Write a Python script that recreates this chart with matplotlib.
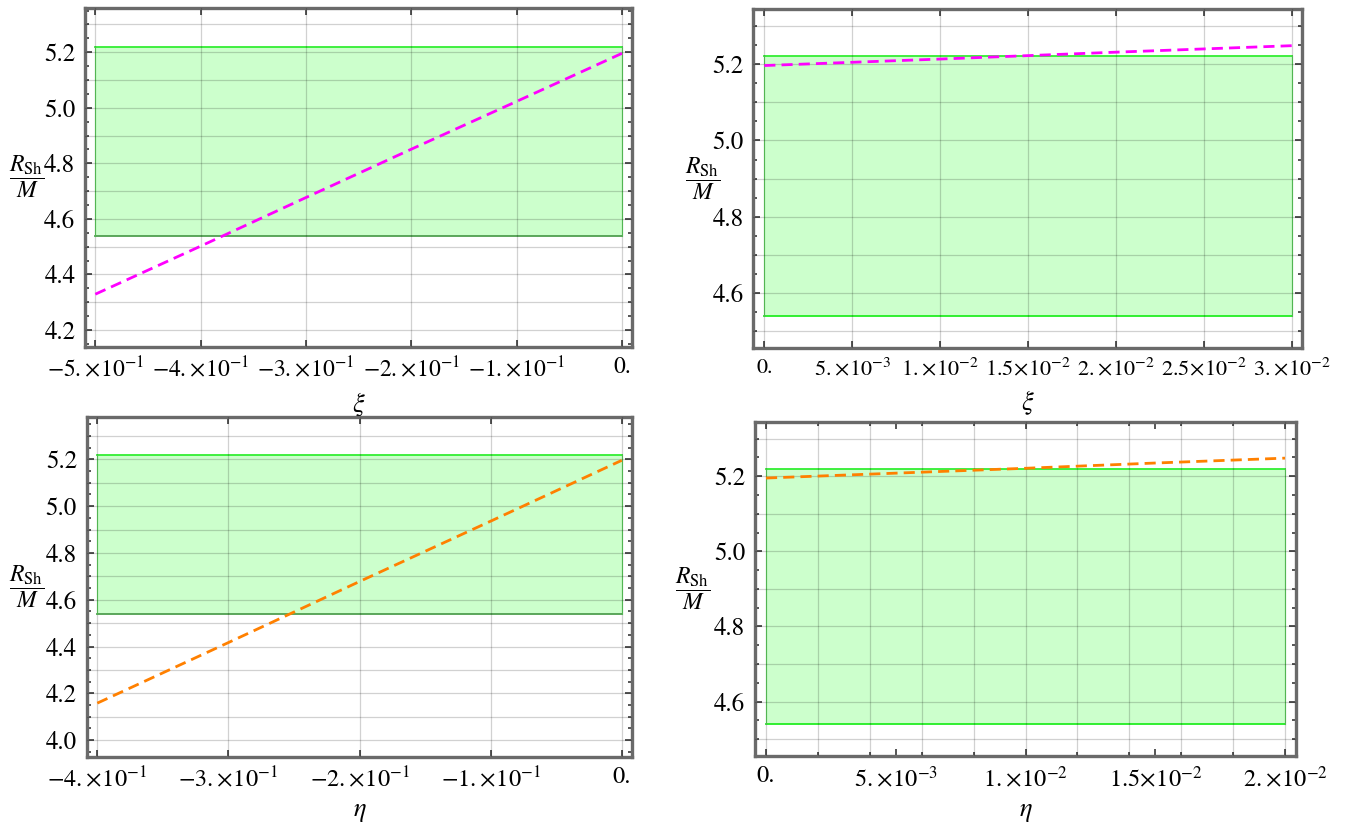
import numpy as np
import matplotlib.pyplot as plt
from matplotlib.ticker import MultipleLocator, FixedLocator

plt.rcParams["mathtext.fontset"] = "stix"
plt.rcParams["font.family"] = ["STIXGeneral", "DejaVu Sans"]

# shadow radius R_Sh/M
xi_neg = [-0.5, -0.4, -0.3, -0.2, -0.1, 0.0]
rsh_xi_neg = [4.329, 4.502, 4.677, 4.851, 5.023, 5.196]
xi_pos = [0.0, 0.01, 0.02, 0.03]
rsh_xi_pos = [5.196, 5.213, 5.231, 5.248]
eta_neg = [-0.4, -0.3, -0.2, -0.1, 0.0]
rsh_eta_neg = [4.158, 4.417, 4.678, 4.936, 5.196]
eta_pos = [0.0, 0.005, 0.01, 0.015, 0.02]
rsh_eta_pos = [5.195, 5.208, 5.221, 5.235, 5.248]

# observational band
band_low, band_high = 4.54, 5.22


def sci(m, e):
    # Mathematica style "m.×10^e"
    return "$" + m + r"\!\times\!10^{" + e + "}$"


xticks_xi_neg = [-0.5, -0.4, -0.3, -0.2, -0.1, 0.0]
xlabels_xi_neg = [sci("-5.", "-1"), sci("-4.", "-1"), sci("-3.", "-1"),
                  sci("-2.", "-1"), sci("-1.", "-1"), "0."]
xticks_xi_pos = [0.0, 0.005, 0.01, 0.015, 0.02, 0.025, 0.03]
xlabels_xi_pos = ["0.", sci("5.", "-3"), sci("1.", "-2"), sci("1.5", "-2"),
                  sci("2.", "-2"), sci("2.5", "-2"), sci("3.", "-2")]
xticks_eta_neg = [-0.4, -0.3, -0.2, -0.1, 0.0]
xlabels_eta_neg = [sci("-4.", "-1"), sci("-3.", "-1"), sci("-2.", "-1"),
                   sci("-1.", "-1"), "0."]
xticks_eta_pos = [0.0, 0.005, 0.01, 0.015, 0.02]
xlabels_eta_pos = ["0.", sci("5.", "-3"), sci("1.", "-2"), sci("1.5", "-2"),
                   sci("2.", "-2")]

W, H = 1354, 825
fig = plt.figure(figsize=(W / 100, H / 100), dpi=100)


def make_axes(left, top, right, bottom):
    return fig.add_axes([left / W, 1 - bottom / H, (right - left) / W, (bottom - top) / H])


def panel(ax, x, y, color, xticks, xlabels, vgrid_step, xlim, ylim, yticks, xname,
          low_color, ylab_x, xsize):
    ax.set_xlim(*xlim)
    ax.set_ylim(*ylim)

    # band of allowed shadow sizes
    ax.fill_between([x[0], x[-1]], band_low, band_high, color="#00ff00", alpha=0.2,
                    linewidth=0, zorder=1)
    ax.plot([x[0], x[-1]], [band_high, band_high], color="#33ee33", lw=1.3, zorder=2)
    ax.plot([x[0], x[-1]], [band_low, band_low], color=low_color, lw=1.3, zorder=2)
    ax.plot([x[0], x[0]], [band_low, band_high], color="#66dd66", lw=0.8, zorder=2)
    ax.plot([x[-1], x[-1]], [band_low, band_high], color="#66dd66", lw=0.8, zorder=2)

    # grid lines drawn over the filling
    gx = np.arange(x[0], x[-1] + vgrid_step / 2, vgrid_step)
    for g in gx:
        ax.axvline(g, color="black", alpha=0.18, lw=0.9, zorder=3)
    for g in np.arange(np.ceil(ylim[0] * 10) / 10, ylim[1], 0.1):
        ax.axhline(g, color="black", alpha=0.18, lw=0.9, zorder=3)

    ax.plot(x, y, color=color, lw=2.0, ls=(0, (4, 2.2)), zorder=4)

    ax.xaxis.set_major_locator(FixedLocator(xticks))
    ax.set_xticklabels(xlabels, fontsize=xsize)
    ax.yaxis.set_major_locator(FixedLocator(yticks))
    ax.set_yticklabels([f"{t:.1f}" for t in yticks], fontsize=18)
    ax.yaxis.set_minor_locator(MultipleLocator(0.05))
    ax.xaxis.set_minor_locator(FixedLocator(gx))
    ax.tick_params(which="both", direction="in", top=True, right=True, color="#555555",
                   width=1.4)
    ax.tick_params(which="major", length=5, pad=7)
    ax.tick_params(which="minor", length=3)
    for s in ax.spines.values():
        s.set_color("#6a6a6a")
        s.set_linewidth(2.4)

    ax.set_xlabel(xname, fontsize=19, labelpad=6)
    ax.set_ylabel(r"$\dfrac{R_{\mathrm{Sh}}}{M}$", fontsize=17, rotation=0, va="center")
    ax.yaxis.set_label_coords(ylab_x, 0.5)


ax1 = make_axes(85, 7.5, 632, 346.7)
panel(ax1, xi_neg, rsh_xi_neg, "#ff00ff", xticks_xi_neg, xlabels_xi_neg, 0.1,
      (-0.5098, 0.0095), (4.140, 5.361), [4.2, 4.4, 4.6, 4.8, 5.0, 5.2], r"$\xi$",
      "#4f9f4f", -0.107, 17)

ax2 = make_axes(753.3, 9, 1301.7, 348.3)
panel(ax2, xi_pos, rsh_xi_pos, "#ff00ff", xticks_xi_pos, xlabels_xi_pos, 0.005,
      (-0.000626, 0.03057), (4.456, 5.344), [4.6, 4.8, 5.0, 5.2], r"$\xi$",
      "#22ee22", -0.093, 16)

ax3 = make_axes(86.7, 417.3, 632, 756.7)
panel(ax3, eta_neg, rsh_eta_neg, "#ff8000", xticks_eta_neg, xlabels_eta_neg, 0.1,
      (-0.4081, 0.0078), (3.929, 5.380), [4.0, 4.2, 4.4, 4.6, 4.8, 5.0, 5.2], r"$\eta$",
      "#4f9f4f", -0.11, 17.5)

ax4 = make_axes(755, 421.7, 1296, 756)
panel(ax4, eta_pos, rsh_eta_pos, "#ff8000", xticks_eta_pos, xlabels_eta_pos, 0.002,
      (-0.000424, 0.020424), (4.455, 5.345), [4.6, 4.8, 5.0, 5.2], r"$\eta$",
      "#22ee22", -0.115, 17.5)

fig.savefig("out.png", dpi=100)
